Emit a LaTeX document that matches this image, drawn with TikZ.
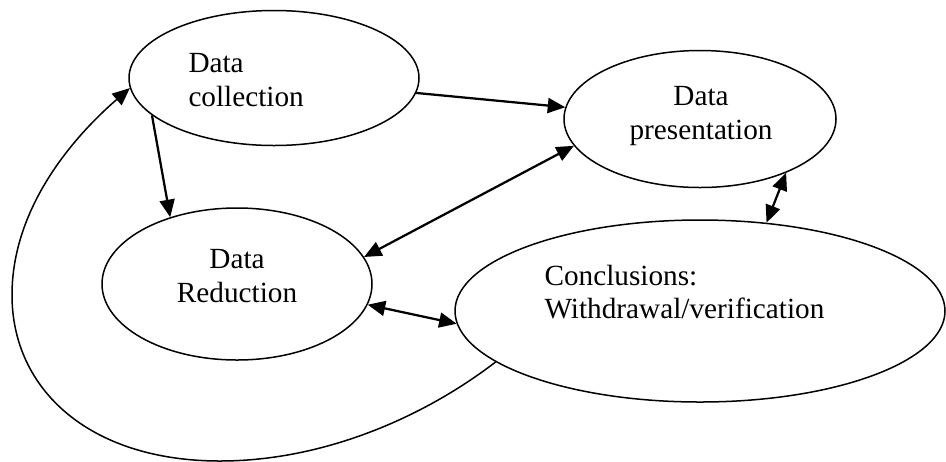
\documentclass[tikz,border=0pt]{standalone}
\usepackage{fontspec}
\setmainfont{Liberation Serif}
\usetikzlibrary{arrows.meta,shapes.geometric}
\tikzset{>/.tip={Triangle[length=7pt,width=6pt]},
  oval/.style={draw,ellipse,line width=0.6pt,inner sep=0pt},
  lbl/.style={inner sep=0pt,font=\fontsize{11.7}{13.4}\selectfont},
  link/.style={line width=0.9pt}}

\begin{document}
\begin{tikzpicture}[x=0.4pt,y=-0.4pt]
\useasboundingbox (0,0) rectangle (946,461);
\node[oval,minimum width=290*0.4pt,minimum height=135*0.4pt] (coll) at (274,78) {};
\node[oval,minimum width=272*0.4pt,minimum height=137*0.4pt] (pres) at (700,119) {};
\node[oval,minimum width=270*0.4pt,minimum height=152*0.4pt] (red) at (237,284) {};
\node[oval,minimum width=490*0.4pt,minimum height=182*0.4pt] (concl) at (700,311) {};

\node[lbl,align=left,anchor=west] (collt) at (188,80) {Data\\collection};
\node[lbl,align=center] (prest) at (701,116) {Data\\presentation};
\node[lbl,align=center] (redt) at (237,276) {Data\\Reduction};
\node[lbl,align=left,anchor=west] (conclt) at (544,292) {Conclusions:\\Withdrawal/verification};

\draw[link,->] (coll.-6) to (pres.175);
\draw[link,->] (coll.-163) to (red.135);
\draw[link,<->] (pres.192) to (red.12);
\draw[link,<->] (pres.-32) to (concl.53);
\draw[link,<->] (red.-9) to (concl.183);
\draw[line width=0.6pt,->] (concl.194) .. controls (420,420) and (320,461) .. (220,461)
  .. controls (90,461) and (12,390) .. (12,295)
  .. controls (12,210) and (70,140) .. (coll.184);
\end{tikzpicture}
\end{document}
